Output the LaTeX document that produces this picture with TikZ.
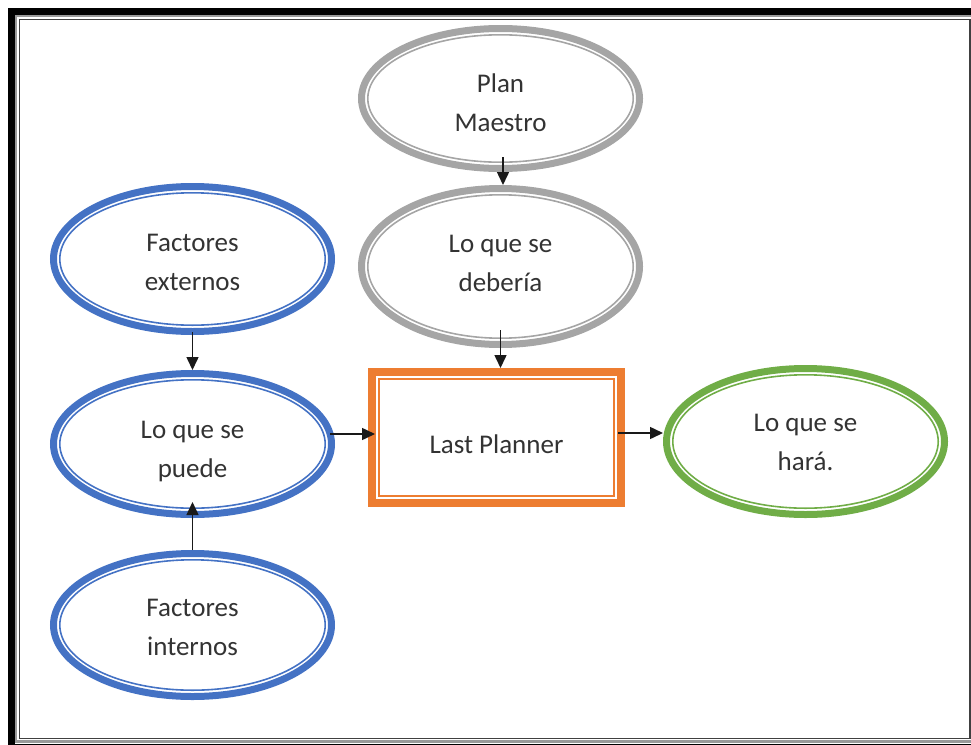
\documentclass[tikz,border=0pt]{standalone}
\usepackage{fontspec}
\setmainfont{Carlito}
\usetikzlibrary{shapes.geometric,arrows.meta,calc}
\definecolor{cblue}{HTML}{4472C4}
\definecolor{corange}{HTML}{ED7D31}
\definecolor{cgreen}{HTML}{70AD47}
\definecolor{cgray}{HTML}{A5A5A5}
\begin{document}
\begin{tikzpicture}[x=1pt,y=-1pt,
  ell/.style={ellipse, draw=#1, line width=7pt, inner sep=0pt, minimum width=278pt},
  inell/.style={draw=#1, line width=1.6pt},
  txt/.style={align=center, font=\fontsize{27}{39}\selectfont, text=black!80, inner sep=0pt},
  arr/.style={draw=black!90, line width=1.5pt, -{Triangle[length=13pt,width=12pt]}},
  lpbox/.style={rectangle, draw=corange, line width=8.3pt, inner sep=0pt,
                minimum width=248.7pt, minimum height=130.7pt}
]
\useasboundingbox (0,0) rectangle (971,744);
\clip (0,0) rectangle (971,744);
% frame
\draw[black, line width=6.5pt] (11.25,11.25) rectangle (978.25,747);
\draw[black!40, line width=2.2pt] (15.6,15.6) rectangle (973.9,741.5);
\draw[black!75, line width=1.8pt] (19.5,19.5) rectangle (970,738.5);

% ellipses
\node[ell=cgray, minimum height=140pt] (pm) at (500.5,98.5) {};
\node[ell=cgray, minimum height=156pt] (deb) at (500.5,266.5) {};
\node[ell=cblue, minimum height=145pt] (ext) at (192.5,259) {};
\node[ell=cblue, minimum height=141pt] (puede) at (192.5,444) {};
\node[ell=cblue, minimum height=143pt] (int) at (192.5,625) {};
\node[ell=cgreen, minimum height=146pt] (hara) at (805.5,441.5) {};
\node[lpbox] (lp) at (496.5,437.5) {};

\draw[inell=cgray] (pm.center) ellipse [x radius=132.7, y radius=63.7];
\draw[inell=cgray] (deb.center) ellipse [x radius=132.7, y radius=71.7];
\draw[inell=cblue] (ext.center) ellipse [x radius=132.7, y radius=66.2];
\draw[inell=cblue] (puede.center) ellipse [x radius=132.7, y radius=64.2];
\draw[inell=cblue] (int.center) ellipse [x radius=132.7, y radius=65.2];
\draw[inell=cgreen] (hara.center) ellipse [x radius=132.7, y radius=66.7];
\draw[corange, line width=1.7pt] ([shift={(10.9,10.9)}]lp.north west) rectangle ([shift={(-10.9,-10.9)}]lp.south east);

% texts
\node[txt] (pmT) at ([yshift=-4.5pt]pm.center) {Plan\\Maestro};
\node[txt] (debT) at ([yshift=2.7pt]deb.center) {Lo que se\\debería};
\node[txt] (extT) at ([yshift=-3.8pt]ext.center) {Factores\\externos};
\node[txt] (puedeT) at ([yshift=-7.6pt]puede.center) {Lo que se\\puede};
\node[txt] (intT) at ([yshift=-2.8pt]int.center) {Factores\\internos};
\node[txt] (haraT) at ([yshift=-1.3pt]hara.center) {Lo que se\\hará.};
\node[txt] (lpT) at ([yshift=-7pt]lp.center) {Last Planner};

% connectors
\draw[arr] ([xshift=2.5pt,yshift=15pt]pm.south) -- ([xshift=2.5pt]deb.north);
\draw[arr] ([yshift=18pt]deb.south) -- (deb.south |- lp.north);
\draw[arr] ([yshift=3pt]ext.south) -- (puede.north);
\draw[arr] (int.north) -- ([yshift=16pt]puede.south);
\draw[arr] ([xshift=-5pt,yshift=10pt]puede.east) -- ([xshift=7pt,yshift=3.5pt]lp.west);
\draw[arr] ([xshift=-7pt,yshift=4.5pt]lp.east) -- ([yshift=8.5pt]hara.west);
\end{tikzpicture}
\end{document}
